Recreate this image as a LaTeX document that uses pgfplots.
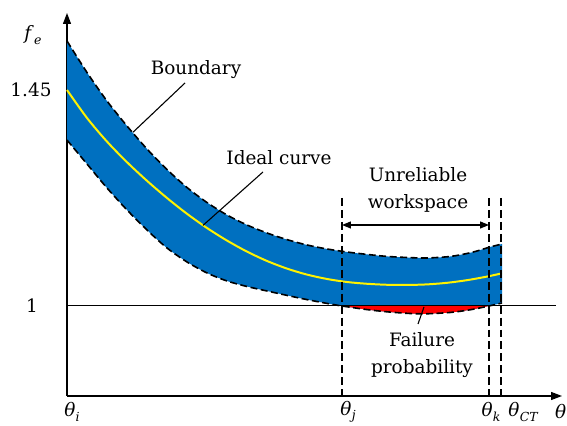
\documentclass[border=0pt]{standalone}
\usepackage{fontspec}
\setmainfont{DejaVu Serif}
\usepackage{pgfplots}
\pgfplotsset{compat=1.18}
\usepackage{pgfplotstable}
\usepgfplotslibrary{fillbetween}
\usetikzlibrary{arrows.meta}

\definecolor{bandblue}{RGB}{0,112,192}

% upper boundary of the band
\pgfplotstableread{
x y
0 1.5521
20 1.4865
40 1.4271
60 1.3750
80 1.3271
100 1.2844
120 1.2469
140 1.2156
160 1.1896
180 1.1688
200 1.1521
220 1.1383
240 1.1271
260 1.1188
280 1.1125
300 1.1075
320 1.1033
343 1.1008
360 1.1000
383 1.1031
400 1.1094
410 1.1146
423 1.1229
435 1.1292
}\upperb

% ideal curve
\pgfplotstableread{
x y
0 1.4500
20 1.3917
40 1.3425
60 1.2996
80 1.2608
100 1.2250
120 1.1921
140 1.1625
160 1.1363
180 1.1133
200 1.0938
220 1.0779
240 1.0654
260 1.0563
280 1.0500
300 1.0463
320 1.0442
340 1.0438
360 1.0450
380 1.0483
400 1.0538
420 1.0613
435 1.0681
}\ideal

% lower boundary of the band
\pgfplotstableread{
x y
0 1.3458
20 1.2958
40 1.2458
60 1.2000
80 1.1583
100 1.1208
120 1.0917
140 1.0688
160 1.0521
180 1.0406
200 1.0313
220 1.0221
240 1.0133
260 1.0054
275 1.0000
300 0.9925
320 0.9879
343 0.9844
360 0.9838
383 0.9865
400 0.9910
410 0.9948
422 1.0000
435 1.0063
}\lowerb

\newcommand{\sym}[2]{\textit{#1}\kern0.3pt\raisebox{-0.45ex}{\fontsize{12.5}{12.5}\selectfont\itshape #2}}

\tikzset{
  txt/.style={font=\fontsize{18.5}{27}\selectfont, align=center, inner sep=0pt},
  num/.style={font=\fontsize{18.5}{25}\selectfont, inner sep=0pt},
}
\pgfplotsset{
  bnd/.style={black, line width=1.6pt, dash pattern=on 7pt off 3.5pt, smooth},
  lim/.style={black, line width=1.5pt, dash pattern=on 8pt off 4pt},
}

\begin{document}
\begin{tikzpicture}
\begin{axis}[
  at={(67bp,30bp)}, anchor=south west,
  scale only axis, width=495bp, height=383bp,
  xmin=0, xmax=495, ymin=0.8125, ymax=1.6104,
  axis lines=left, ticks=none, clip=false,
  axis line style={line width=1.3pt, -{Triangle[length=11pt,width=8pt]}},
]
\addplot[name path=up, draw=none, smooth] table {\upperb};
\addplot[name path=lo, draw=none, smooth] table {\lowerb};
\addplot[name path=one, draw=none] coordinates {(0,1) (489,1)};
\addplot[fill=bandblue, draw=none] fill between[of=up and lo];
\addplot[fill=red, draw=none] fill between[of=lo and one, soft clip={domain=275:422}];
\addplot[black, line width=1pt] coordinates {(0,1) (489,1)};
\addplot[yellow, line width=2pt, smooth] table {\ideal};
\addplot[bnd] table {\upperb};
\addplot[bnd] table {\lowerb};

% limits of the unreliable workspace
\addplot[lim] coordinates {(275,1.225) (275,0.8125)};
\addplot[lim] coordinates {(422,1.225) (422,0.8125)};
\addplot[lim] coordinates {(434,1.225) (434,0.8125)};

\draw[line width=1.2pt, {Triangle[length=9pt,width=7pt]}-{Triangle[length=9pt,width=7pt]}]
  (axis cs:275,1.16875) -- (axis cs:422,1.16875);

% leader lines
\draw[line width=1.1pt] (axis cs:118,1.4646) -- (axis cs:66,1.362);
\draw[line width=1.1pt] (axis cs:196,1.2792) -- (axis cs:136,1.168);
\draw[line width=1.1pt] (axis cs:357,0.998) -- (axis cs:351,0.9625);

\node[txt] at (axis cs:129,1.4917) {Boundary};
\node[txt] at (axis cs:212,1.3083) {Ideal curve};
\node[txt] at (axis cs:351,1.2427) {Unreliable\\workspace};
\node[txt] at (axis cs:355,0.8969) {Failure\\probability};

\node[num] at (axis cs:-34,1.5646) {\sym{f}{e}};
\node[num] at (axis cs:-36,1.45) {1.45};
\node[num] at (axis cs:-35,1.0) {1};

\node[num] at (axis cs:5,0.7792) {\sym{θ}{i}};
\node[num] at (axis cs:281,0.7792) {\sym{θ}{j}};
\node[num] at (axis cs:424,0.7792) {\sym{θ}{k}};
\node[num] at (axis cs:456,0.7792) {\sym{θ}{CT}};
\node[num, anchor=west] at (axis cs:488,0.7792) {\textit{θ}};
\end{axis}
\pgfresetboundingbox
\path[use as bounding box] (0,0) rectangle (567bp,426bp);
\end{tikzpicture}
\end{document}
